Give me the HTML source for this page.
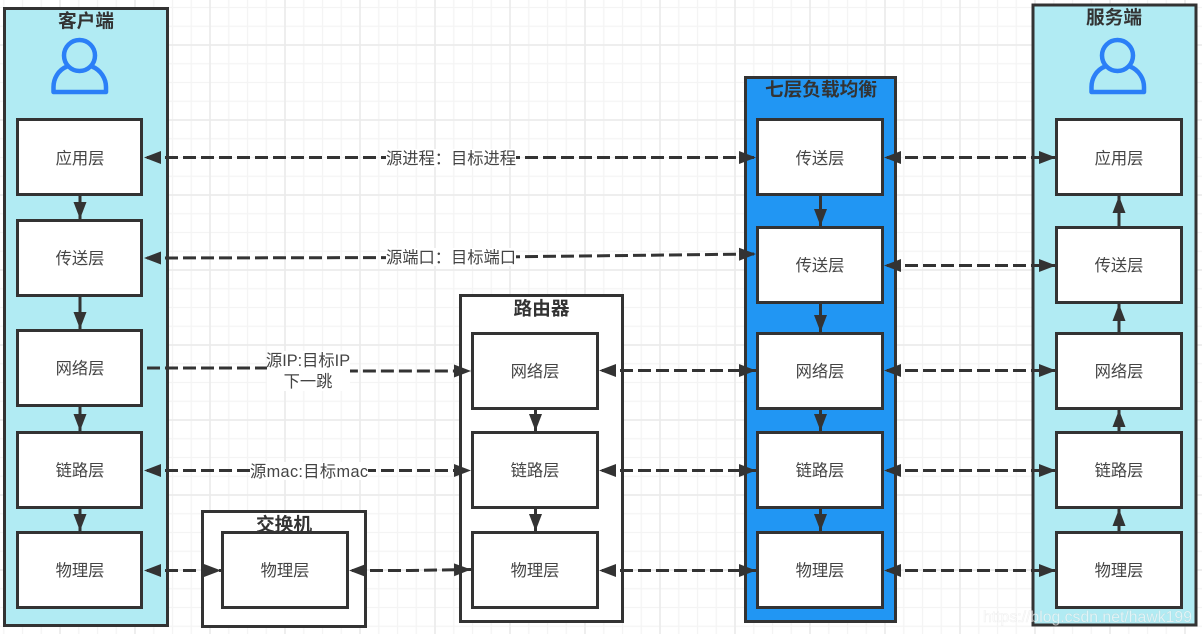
<!DOCTYPE html>
<html><head><meta charset="utf-8"><style>
html,body{margin:0;padding:0;background:#fff;width:1202px;height:634px;overflow:hidden}
svg{display:block}
text{font-family:"Liberation Sans","Noto Sans CJK SC",sans-serif}
.lb{font-size:16.300px;fill:#444;text-anchor:middle;dominant-baseline:central}
.t{font-size:18.700px;font-weight:bold;fill:#333;text-anchor:middle;dominant-baseline:central}
.n{fill:#fff;stroke:#333;stroke-width:3}
.d{stroke:#333;stroke-width:3;stroke-dasharray:13 5;stroke-dashoffset:15;fill:none}
.s{stroke:#333;stroke-width:3;fill:none}
</style></head><body>
<svg width="1202" height="634" viewBox="0 0 1202 634" xmlns="http://www.w3.org/2000/svg">
<defs>
<pattern id="g1" width="18.75" height="18.75" patternUnits="userSpaceOnUse" x="2.75" y="6.5"><path d="M0 1H18.75M1 0V18.75" stroke="#f4f4f4" stroke-width="1.3" fill="none"/></pattern>
<pattern id="g2" width="75" height="75" patternUnits="userSpaceOnUse" x="-16" y="44"><path d="M0 1H75M1 0V75" stroke="#eaeaea" stroke-width="1.5" fill="none"/></pattern>
<marker id="e" markerWidth="18" markerHeight="16" refX="17" refY="8" orient="auto" markerUnits="userSpaceOnUse"><path d="M0 1.500L17 8L0 14.500Z" fill="#333"/></marker>
<marker id="st" markerWidth="18" markerHeight="16" refX="0" refY="8" orient="auto" markerUnits="userSpaceOnUse"><path d="M17 1.500L0 8L17 14.500Z" fill="#333"/></marker>
</defs>
<rect width="1202" height="634" fill="#fff"/>
<rect width="1202" height="634" fill="url(#g1)"/>
<rect width="1202" height="634" fill="url(#g2)"/>

<!-- containers -->
<rect x="4.500" y="8.500" width="163" height="617" fill="#b1ebf3" stroke="#333" stroke-width="3"/>
<rect x="1033" y="5" width="163" height="620" fill="#b1ebf3" stroke="#333" stroke-width="3"/>
<rect x="745.500" y="77.500" width="150" height="544" fill="#2196f3" stroke="#333" stroke-width="3"/>
<rect x="460.500" y="295.500" width="162" height="326" fill="#fff" stroke="#333" stroke-width="3"/>
<rect x="202.500" y="511.500" width="163" height="115" fill="#fff" stroke="#333" stroke-width="3"/>

<text class="t" x="86" y="21">客户端</text>
<text class="t" x="1114" y="17.500">服务端</text>
<text class="t" x="821" y="89.500">七层负载均衡</text>
<text class="t" x="541.500" y="308.500">路由器</text>
<text class="t" x="284" y="524.500">交换机</text>

<!-- user icons -->
<g fill="none" stroke="#2b7ff7" stroke-width="4.500" stroke-linejoin="round">
<circle cx="79.500" cy="55.500" r="15.500"/>
<path d="M67 66.500C58 70 53.500 79 53.500 87V92H106V87C106 79 101 70 92 66.500"/>
<circle cx="1117.500" cy="55.500" r="15.500"/>
<path d="M1105 66.500C1096 70 1091.500 79 1091.500 87V92H1144V87C1144 79 1139 70 1130 66.500"/>
</g>

<!-- solid arrows -->
<g>
<path class="s" d="M80 195V219" marker-end="url(#e)"/>
<path class="s" d="M80 296V329" marker-end="url(#e)"/>
<path class="s" d="M80 406V431" marker-end="url(#e)"/>
<path class="s" d="M80 508V531" marker-end="url(#e)"/>
<path class="s" d="M535.500 409V431" marker-end="url(#e)"/>
<path class="s" d="M535.500 508V531" marker-end="url(#e)"/>
<path class="s" d="M820.500 195V226" marker-end="url(#e)"/>
<path class="s" d="M820.500 303V332" marker-end="url(#e)"/>
<path class="s" d="M820.500 409V431" marker-end="url(#e)"/>
<path class="s" d="M820.500 508V531" marker-end="url(#e)"/>
<path class="s" d="M1119 227V196" marker-end="url(#e)"/>
<path class="s" d="M1119 333V304" marker-end="url(#e)"/>
<path class="s" d="M1119 432V410" marker-end="url(#e)"/>
<path class="s" d="M1119 532V509" marker-end="url(#e)"/>
</g>

<!-- dashed arrows -->
<g>
<path class="d" d="M144 157.500H756" marker-start="url(#st)" marker-end="url(#e)"/>
<path class="d" d="M144 258L450 257.500L756 254" marker-start="url(#st)" marker-end="url(#e)"/>
<path class="d" d="M144 368H300L345 371H471" marker-end="url(#e)"/>
<path class="d" d="M144 470.500H471" marker-start="url(#st)" marker-end="url(#e)"/>
<path class="d" d="M144 570.500H221" marker-start="url(#st)" marker-end="url(#e)"/>
<path class="d" d="M349 570.500H410L471 569.500" marker-start="url(#st)" marker-end="url(#e)"/>
<path class="d" d="M599 370.500H756" marker-start="url(#st)" marker-end="url(#e)"/>
<path class="d" d="M599 470.500H756" marker-start="url(#st)" marker-end="url(#e)"/>
<path class="d" d="M599 570.500H756" marker-start="url(#st)" marker-end="url(#e)"/>
<path class="d" d="M884 157.500H1056" marker-start="url(#st)" marker-end="url(#e)"/>
<path class="d" d="M884 265.500H1056" marker-start="url(#st)" marker-end="url(#e)"/>
<path class="d" d="M884 370.500H1056" marker-start="url(#st)" marker-end="url(#e)"/>
<path class="d" d="M884 470.500H1056" marker-start="url(#st)" marker-end="url(#e)"/>
<path class="d" d="M884 570.500H1056" marker-start="url(#st)" marker-end="url(#e)"/>
</g>

<!-- nodes -->
<g>
<rect class="n" x="17.500" y="119.500" width="124" height="75"/>
<rect class="n" x="17.500" y="220.500" width="124" height="75"/>
<rect class="n" x="17.500" y="330.500" width="124" height="75"/>
<rect class="n" x="17.500" y="432.500" width="124" height="75"/>
<rect class="n" x="17.500" y="532.500" width="124" height="75"/>
<rect class="n" x="222.500" y="532.500" width="125" height="75"/>
<rect class="n" x="472.500" y="333.500" width="125" height="75"/>
<rect class="n" x="472.500" y="432.500" width="125" height="75"/>
<rect class="n" x="472.500" y="532.500" width="125" height="75"/>
<rect class="n" x="757.500" y="119.500" width="125" height="75"/>
<rect class="n" x="757.500" y="227.500" width="125" height="75"/>
<rect class="n" x="757.500" y="333.500" width="125" height="75"/>
<rect class="n" x="757.500" y="432.500" width="125" height="75"/>
<rect class="n" x="757.500" y="532.500" width="125" height="75"/>
<rect class="n" x="1056.500" y="119.500" width="125" height="75"/>
<rect class="n" x="1056.500" y="227.500" width="125" height="75"/>
<rect class="n" x="1056.500" y="333.500" width="125" height="75"/>
<rect class="n" x="1056.500" y="432.500" width="125" height="75"/>
<rect class="n" x="1056.500" y="532.500" width="125" height="75"/>
</g>

<g>
<text class="lb" x="80" y="159">应用层</text>
<text class="lb" x="80" y="259">传送层</text>
<text class="lb" x="80" y="369">网络层</text>
<text class="lb" x="80" y="471">链路层</text>
<text class="lb" x="80" y="571">物理层</text>
<text class="lb" x="285" y="571">物理层</text>
<text class="lb" x="535" y="372">网络层</text>
<text class="lb" x="535" y="471">链路层</text>
<text class="lb" x="535" y="571">物理层</text>
<text class="lb" x="820" y="159">传送层</text>
<text class="lb" x="820" y="266">传送层</text>
<text class="lb" x="820" y="372">网络层</text>
<text class="lb" x="820" y="471">链路层</text>
<text class="lb" x="820" y="571">物理层</text>
<text class="lb" x="1119" y="159">应用层</text>
<text class="lb" x="1119" y="266">传送层</text>
<text class="lb" x="1119" y="372">网络层</text>
<text class="lb" x="1119" y="471">链路层</text>
<text class="lb" x="1119" y="571">物理层</text>
</g>

<!-- connector labels -->
<rect x="386" y="149" width="130" height="18" fill="#fff"/>
<text class="lb" x="451" y="159" textLength="130">源进程：目标进程</text>
<rect x="386" y="248" width="130" height="18" fill="#fff"/>
<text class="lb" x="451" y="258" textLength="130">源端口：目标端口</text>
<rect x="267" y="351" width="83" height="40" fill="#fff"/>
<text class="lb" x="308" y="361">源IP:目标IP</text>
<text class="lb" x="308" y="382">下一跳</text>
<rect x="250" y="462" width="118" height="18" fill="#fff"/>
<text class="lb" x="309" y="472" textLength="118">源mac:目标mac</text>

<text x="983" y="622" font-size="16" textLength="209" lengthAdjust="spacingAndGlyphs" fill="#ffffff" fill-opacity="0.65" stroke="#999" stroke-opacity="0.15" stroke-width="0.6">https://blog.csdn.net/hawk199</text>
</svg>
</body></html>
